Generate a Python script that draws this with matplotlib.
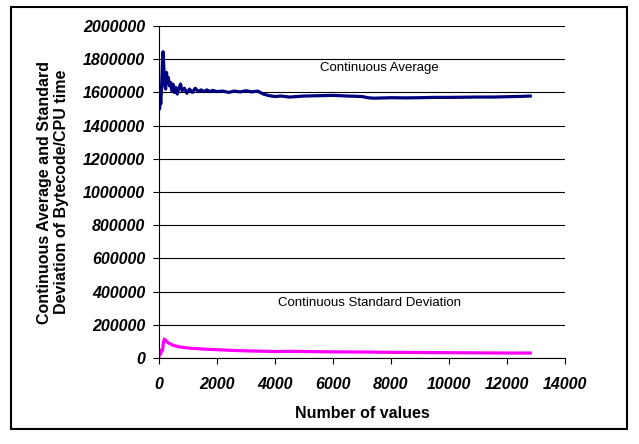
import matplotlib.pyplot as plt
import matplotlib.patches as patches

plt.rcParams['font.family'] = ['Liberation Sans', 'DejaVu Sans']

# continuous average (number of values, value)
avg_x = [0, 20, 40, 60, 80, 100, 120, 140, 170, 200, 230, 260, 290, 320, 360, 400, 440,
         480, 530, 580, 630, 680, 740, 800, 880, 960, 1050, 1150, 1250, 1350, 1450,
         1550, 1650, 1750, 1850, 2000, 2200, 2400, 2600, 2800, 3000, 3200, 3400, 3600,
         3800, 4000, 4200, 4500, 5000, 5500, 6000, 6500, 7000, 7200, 7400, 7600, 8000,
         8500, 9000, 9500, 10000, 10500, 11000, 11500, 12000, 12500, 12800]
avg_y = [1560000, 1500000, 1580000, 1530000, 1600000, 1680000, 1780000, 1845000, 1740000,
         1640000, 1620000, 1720000, 1660000, 1690000, 1640000, 1660000, 1610000,
         1650000, 1600000, 1630000, 1590000, 1620000, 1650000, 1610000, 1625000,
         1595000, 1620000, 1600000, 1625000, 1605000, 1615000, 1605000, 1615000,
         1605000, 1612000, 1605000, 1608000, 1600000, 1608000, 1603000, 1610000,
         1603000, 1608000, 1590000, 1580000, 1575000, 1578000, 1572000, 1578000,
         1580000, 1582000, 1578000, 1575000, 1568000, 1565000, 1566000, 1568000,
         1567000, 1568000, 1570000, 1570000, 1571000, 1572000, 1572000, 1574000,
         1576000, 1578000]

# continuous standard deviation
std_x = [0, 30, 60, 90, 120, 150, 180, 220, 260, 320, 400, 500, 700, 1000, 1500, 2000,
         2500, 3000, 3500, 4000, 4500, 5000, 6000, 7000, 8000, 9000, 10000, 11000,
         12000, 12800]
std_y = [10000, 40000, 25000, 50000, 45000, 90000, 114000, 108000, 100000, 92000, 84000,
         76000, 67000, 60000, 54000, 50000, 46000, 43000, 41000, 39000, 40000, 39000,
         37000, 36000, 34000, 33000, 32000, 31000, 30000, 30000]

W, H = 639, 444
fig = plt.figure(figsize=(W / 100, H / 100), dpi=100)
ax = fig.add_axes([159 / W, 1 - 358 / H, (565 - 159) / W, (358 - 26) / H])

ax.plot(avg_x, avg_y, color='#000080', lw=2.3)
ax.plot(std_x, std_y, color='#ff00ff', lw=2.3)

ax.set_xlim(0, 14000)
ax.set_ylim(0, 2000000)
tick_font = dict(fontsize=11.5, fontweight='bold', fontstyle='italic')
xt = list(range(0, 14001, 2000))
yt = list(range(0, 2000001, 200000))
ax.set_xticks(xt, [str(v) for v in xt], **tick_font)
ax.set_yticks(yt, [str(v) for v in yt], **tick_font)
ax.yaxis.grid(True, color='black', lw=0.8)
ax.set_axisbelow(True)
for s in ['top', 'right']:
    ax.spines[s].set_visible(False)
ax.tick_params(axis='y', direction='out', length=4, width=0.8, pad=6)
ax.tick_params(axis='x', direction='out', length=4, width=0.8, pad=10)

ax.set_xlabel('Number of values', fontsize=11.5, fontweight='bold', labelpad=10)
ax.set_ylabel('Continuous Average and Standard\nDeviation of Bytecode/CPU time',
              fontsize=11.5, fontweight='bold', labelpad=10)

ax.text(7600, 1750000, 'Continuous Average', fontsize=9.5, ha='center', va='center')
ax.text(7250, 330000, 'Continuous Standard Deviation', fontsize=9.5, ha='center', va='center')

fig.patches.append(patches.Rectangle((11 / W, 1 - 429 / H), 616 / W, 422 / H,
                                     transform=fig.transFigure, fill=False,
                                     edgecolor='black', lw=1.5))

fig.savefig('out.png', dpi=100)
